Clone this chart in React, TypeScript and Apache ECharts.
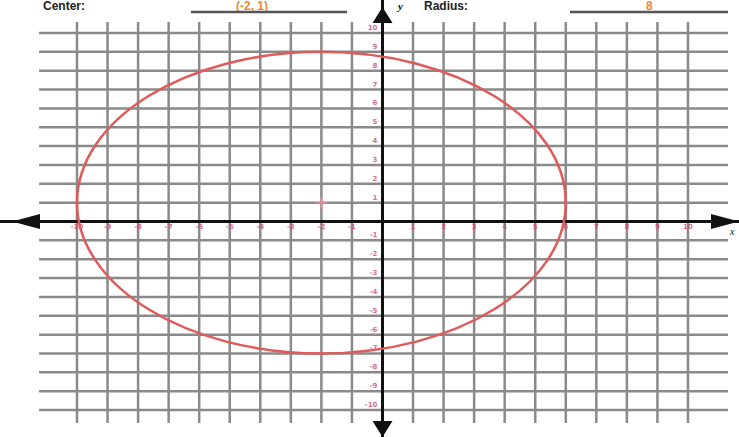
import React, { useEffect, useRef } from "react";
import * as echarts from "echarts";

// ---- data ----
const gridXValues = [-10, -9, -8, -7, -6, -5, -4, -3, -2, -1, 0, 1, 2, 3, 4, 5, 6, 7, 8, 9, 10];
const gridYValues = [-10, -9, -8, -7, -6, -5, -4, -3, -2, -1, 0, 1, 2, 3, 4, 5, 6, 7, 8, 9, 10];
const xTickLabels = [-10, -9, -8, -7, -6, -5, -4, -3, -2, -1, 1, 2, 3, 4, 5, 6, 7, 8, 9, 10];
const yTickLabels = [-10, -9, -8, -7, -6, -5, -4, -3, -2, -1, 1, 2, 3, 4, 5, 6, 7, 8, 9, 10];
const circleCenter = [-2, 1];
const circleRadius = 8;
const headerLeftLabel = "Center:";
const headerLeftAnswer = "(-2, 1)";
const headerRightLabel = "Radius:";
const headerRightAnswer = "8";

// ---- layout constants (axis extents in data units) ----
const X_MIN = -12.52;
const X_MAX = 11.67;
const Y_MIN = -11.43;
const Y_MAX = 11.75;
const H_LINE_FROM = -11.24;
const H_LINE_TO = 11.31;
const V_LINE_FROM = -10.69;
const V_LINE_TO = 10.58;

const GRID_COLOR = "#8a8a8a";
const LABEL_COLOR = "#d4466a";
const CIRCLE_COLOR = "#e05a5a";

export default function App() {
  const ref = useRef<HTMLDivElement>(null);

  useEffect(() => {
    if (!ref.current) return;
    const chart = echarts.init(ref.current, null, { renderer: "svg" });

    const option: any = {
      animation: false,
      backgroundColor: "#ffffff",
      grid: { left: 0, right: 0, top: 0, bottom: 0, containLabel: false, outerBoundsMode: "none" },
      xAxis: {
        type: "value",
        min: X_MIN,
        max: X_MAX,
        splitLine: { show: false },
        axisTick: { show: false },
        axisLabel: { show: false },
        axisLine: {
          onZero: true,
          lineStyle: { color: "#111111", width: 3 },
          symbol: ["triangle", "triangle"],
          symbolSize: [15, 28],
          symbolOffset: [26, -14],
        },
        z: 5,
      },
      yAxis: {
        type: "value",
        min: Y_MIN,
        max: Y_MAX,
        splitLine: { show: false },
        axisTick: { show: false },
        axisLabel: { show: false },
        axisLine: {
          onZero: true,
          lineStyle: { color: "#111111", width: 3 },
          symbol: ["triangle", "triangle"],
          symbolSize: [20, 16],
          symbolOffset: [8, -15],
        },
        z: 5,
      },
      series: [
        {
          type: "custom",
          name: "vgrid",
          coordinateSystem: "cartesian2d",
          silent: true,
          clip: false,
          encode: { x: 0, y: 1 },
          data: gridXValues.map((v) => [v, 0]),
          renderItem: (params: any, api: any) => {
            const v = api.value(0);
            const p1 = api.coord([v, V_LINE_FROM]);
            const p2 = api.coord([v, V_LINE_TO]);
            return {
              type: "line",
              shape: { x1: p1[0], y1: p1[1], x2: p2[0], y2: p2[1] },
              style: { stroke: GRID_COLOR, lineWidth: 2.5 },
            };
          },
          z: 1,
        },
        {
          type: "custom",
          name: "hgrid",
          coordinateSystem: "cartesian2d",
          silent: true,
          clip: false,
          encode: { x: 0, y: 1 },
          data: gridYValues.map((v) => [0, v]),
          renderItem: (params: any, api: any) => {
            const v = api.value(1);
            const p1 = api.coord([H_LINE_FROM, v]);
            const p2 = api.coord([H_LINE_TO, v]);
            return {
              type: "line",
              shape: { x1: p1[0], y1: p1[1], x2: p2[0], y2: p2[1] },
              style: { stroke: GRID_COLOR, lineWidth: 2.5 },
            };
          },
          z: 1,
        },
        {
          type: "scatter",
          name: "xLabels",
          silent: true,
          symbolSize: 0,
          data: xTickLabels.map((v) => [v, 0]),
          label: {
            show: true,
            position: "bottom",
            distance: 2,
            formatter: (p: any) => String(p.value[0]),
            fontSize: 7,
            fontWeight: "bold",
            color: LABEL_COLOR,
            fontFamily: "DejaVu Sans",
          },
          z: 6,
        },
        {
          type: "scatter",
          name: "yLabels",
          silent: true,
          symbolSize: 0,
          data: yTickLabels.map((v) => [0, v]),
          label: {
            show: true,
            position: "left",
            distance: 5,
            offset: [0, -5],
            formatter: (p: any) => String(p.value[1]),
            fontSize: 7,
            fontWeight: "bold",
            color: LABEL_COLOR,
            fontFamily: "DejaVu Sans",
          },
          z: 6,
        },
        {
          type: "custom",
          name: "circle",
          coordinateSystem: "cartesian2d",
          silent: true,
          clip: false,
          encode: { x: 0, y: 1 },
          data: [[circleCenter[0], circleCenter[1], circleRadius]],
          renderItem: (params: any, api: any) => {
            const c = api.coord([api.value(0), api.value(1)]);
            const s = api.size([api.value(2), api.value(2)]);
            return {
              type: "ellipse",
              shape: { cx: c[0], cy: c[1], rx: s[0], ry: s[1] },
              style: { fill: "none", stroke: CIRCLE_COLOR, lineWidth: 2.5 },
            };
          },
          z: 10,
        },
        {
          type: "scatter",
          name: "center",
          silent: true,
          data: [circleCenter],
          symbol: "path://M4.2 0h1.6v10h-1.6zM0 4.2h10v1.6h-10z",
          symbolSize: 12,
          itemStyle: { color: "#ef8f9c" },
          z: 10,
        },
      ],
      graphic: [
        {
          type: "text",
          left: 43,
          top: 0,
          style: { text: headerLeftLabel, fontSize: 12, fill: "#222", fontFamily: "Liberation Sans", fontWeight: "bold" },
        },
        {
          type: "text",
          left: 236,
          top: 0,
          style: { text: headerLeftAnswer, fontSize: 12, fill: "#e8873a", fontFamily: "Liberation Sans", fontWeight: "bold" },
        },
        {
          type: "line",
          shape: { x1: 191, y1: 12, x2: 347, y2: 12 },
          style: { stroke: "#555", lineWidth: 2.5 },
        },
        {
          type: "text",
          left: 398,
          top: 0,
          style: { text: "y", fontSize: 11, fill: "#111", fontFamily: "Liberation Serif", fontStyle: "italic", fontWeight: "bold" },
        },
        {
          type: "text",
          left: 424,
          top: 0,
          style: { text: headerRightLabel, fontSize: 12, fill: "#222", fontFamily: "Liberation Sans", fontWeight: "bold" },
        },
        {
          type: "text",
          left: 646,
          top: 0,
          style: { text: headerRightAnswer, fontSize: 12, fill: "#e8873a", fontFamily: "Liberation Sans", fontWeight: "bold" },
        },
        {
          type: "line",
          shape: { x1: 570, y1: 12, x2: 728, y2: 12 },
          style: { stroke: "#555", lineWidth: 2.5 },
        },
        {
          type: "text",
          left: 730,
          top: 226,
          style: { text: "x", fontSize: 10, fill: "#111", fontFamily: "Liberation Serif", fontStyle: "italic" },
        },
      ],
    };

    chart.setOption(option);
    return () => chart.dispose();
  }, []);

  return (
    <div
      ref={ref}
      style={{ position: "fixed", left: 0, top: 0, width: 739, height: 437 }}
    />
  );
}
